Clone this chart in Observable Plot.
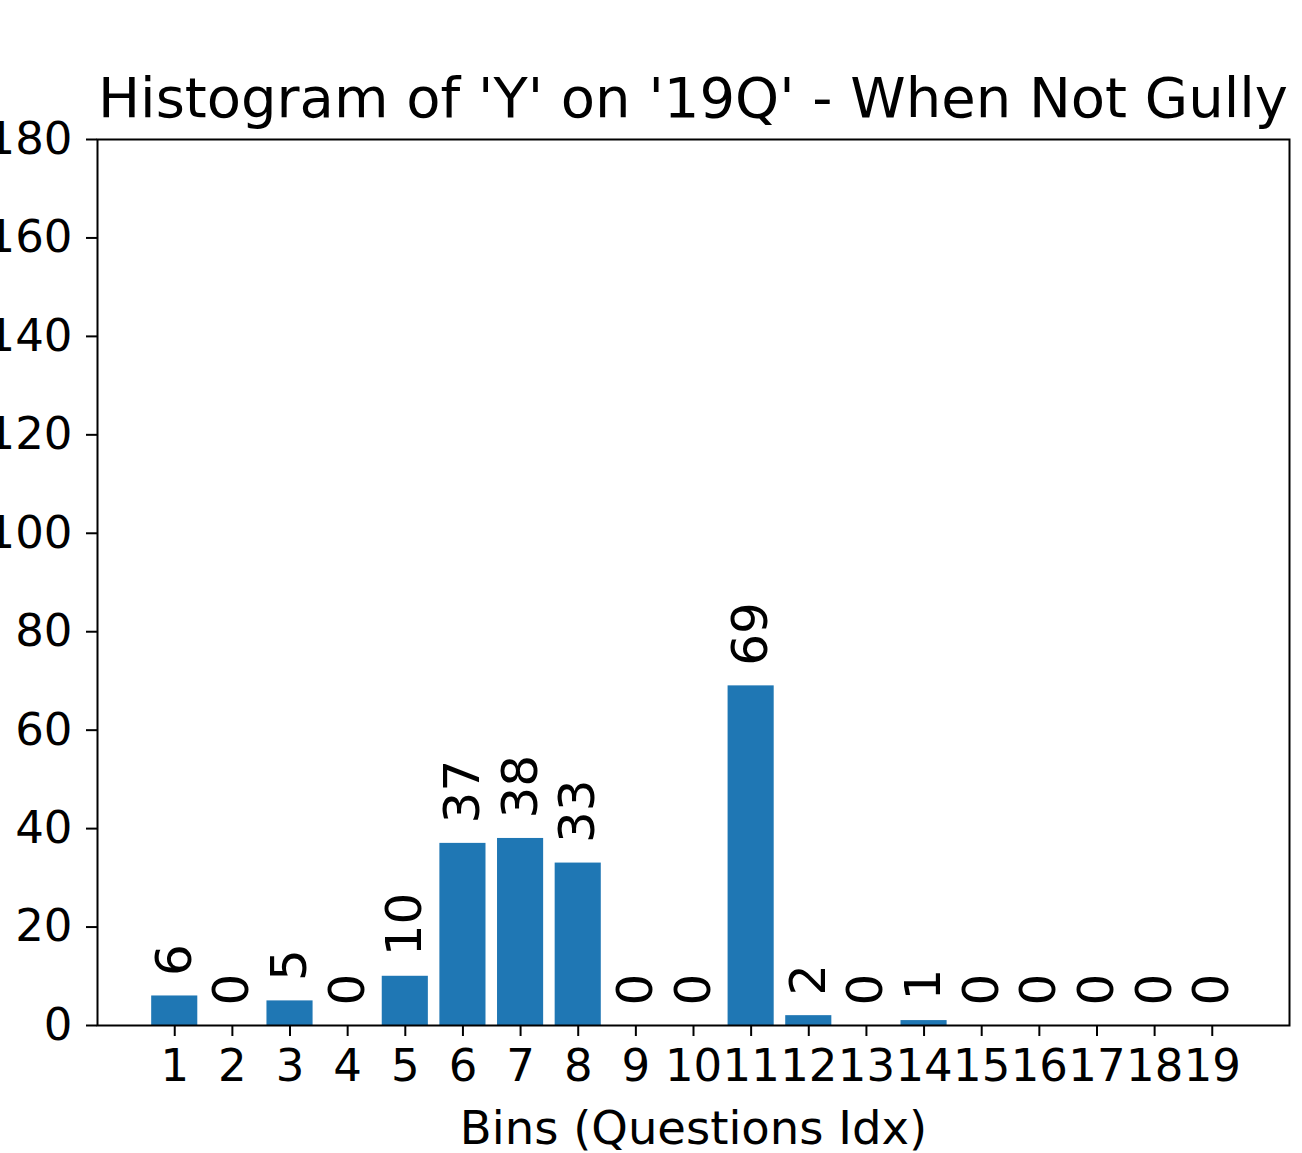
<!DOCTYPE html>
<html>
<head>
<meta charset="utf-8">
<script src="https://cdn.jsdelivr.net/npm/d3@7"></script>
<script src="https://cdn.jsdelivr.net/npm/@observablehq/plot@0.6"></script>
<style>
  html, body { margin: 0; padding: 0; background: #fff; overflow: hidden; width: 1302px; height: 1153px; }
  #title { position: relative; height: 120px; width: 1302px; font-family: "DejaVu Sans", sans-serif; }
  #title span { position: absolute; left: 0; width: 1386px; top: 70px; text-align: center; font-size: 56px; line-height: 56px; color: #000; white-space: nowrap; }
  #chart { margin-left: -100px; }
  #chart svg { display: block; }
</style>
</head>
<body>
<div id="title"><span>Histogram of 'Y' on '19Q' - When Not Gully</span></div>
<div id="chart"></div>
<script>
const bins = [1,2,3,4,5,6,7,8,9,10,11,12,13,14,15,16,17,18,19];
const counts = [6,0,5,0,10,37,38,33,0,0,69,2,0,1,0,0,0,0,0];
const yTicks = [0,20,40,60,80,100,120,140,160,180];
const xLabel = "Bins (Questions Idx)";

const data = bins.map((b, i) => ({bin: b, count: counts[i]}));

const chart = Plot.plot({
  width: 1402,
  height: 1033,
  marginLeft: 197,
  marginRight: 13,
  marginTop: 19,
  marginBottom: 128,
  style: {fontFamily: "DejaVu Sans, sans-serif", color: "#000", background: "#fff"},
  x: {domain: [-0.34, 20.34]},
  y: {domain: [0, 180]},
  marks: [
    Plot.rectY(data, {x1: d => d.bin - 0.4, x2: d => d.bin + 0.4, y: "count", fill: "#1f77b4"}),
    Plot.text(data, {x: "bin", y: "count", text: d => String(d.count), rotate: -90, textAnchor: "start", lineAnchor: "middle", dy: -20, fontSize: 50, fill: "#000"}),
    Plot.axisX({ticks: bins, tickFormat: d => String(d), tickSize: 11, tickPadding: 13, fontSize: 45, strokeWidth: 2, label: null}),
    Plot.axisY({ticks: yTicks, tickFormat: d => String(d), tickSize: 11, tickPadding: 14, fontSize: 45, strokeWidth: 2, label: null}),
    Plot.text([xLabel], {frameAnchor: "bottom", dy: 118, lineAnchor: "bottom", fontSize: 46.5, fill: "#000"}),
    Plot.frame({stroke: "#000", strokeWidth: 2})
  ]
});
document.getElementById("chart").appendChild(chart);
</script>
</body>
</html>
